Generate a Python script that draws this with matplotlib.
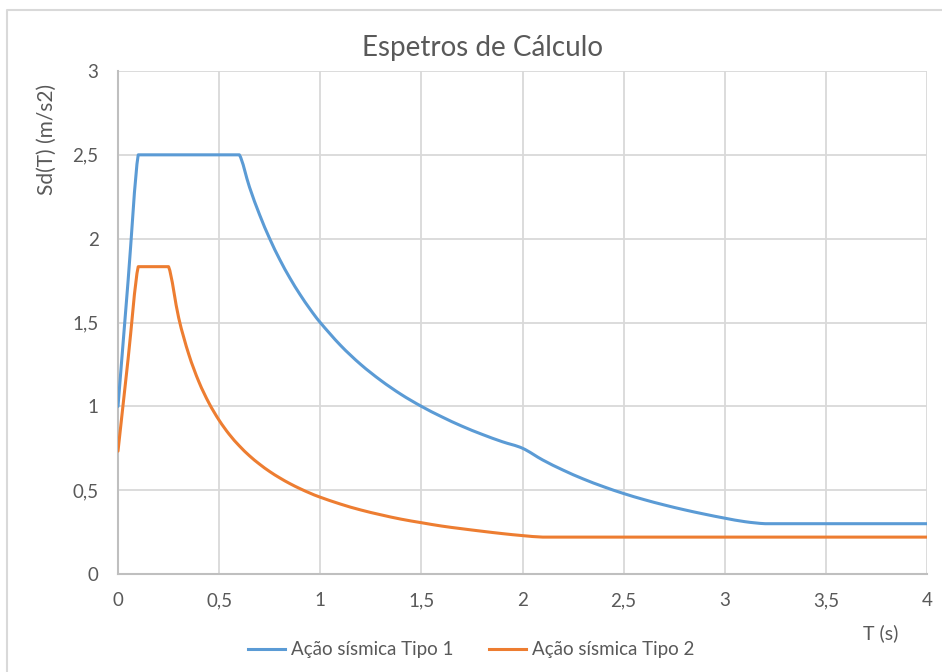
import matplotlib
matplotlib.use("Agg")
import matplotlib.pyplot as plt
import numpy as np
from matplotlib.path import Path
from matplotlib.patches import PathPatch
from matplotlib.lines import Line2D

plt.rcParams['font.family'] = ['Lato', 'DejaVu Sans']

# Period T (s)
periods = [0.0, 0.05, 0.1, 0.15, 0.2, 0.25, 0.3, 0.35, 0.4, 0.45, 0.5,
           0.55, 0.6, 0.65, 0.7, 0.75, 0.8, 0.85, 0.9, 0.95, 1.0,
           1.1, 1.2, 1.3, 1.4, 1.5, 1.6, 1.7, 1.8, 1.9, 2.0,
           2.1, 2.2, 2.3, 2.4, 2.5, 2.6, 2.7, 2.8, 2.9, 3.0,
           3.1, 3.2, 3.3, 3.4, 3.5, 3.6, 3.7, 3.8, 3.9, 4.0]

# Design spectrum, seismic action type 1 (m/s2)
sd_tipo1 = [1.000, 1.750, 2.500, 2.500, 2.500, 2.500, 2.500, 2.500, 2.500, 2.500, 2.500,
            2.500, 2.500, 2.308, 2.143, 2.000, 1.875, 1.765, 1.667, 1.579, 1.500,
            1.364, 1.250, 1.154, 1.071, 1.000, 0.938, 0.882, 0.833, 0.789, 0.750,
            0.680, 0.620, 0.567, 0.521, 0.480, 0.444, 0.412, 0.383, 0.357, 0.333,
            0.312, 0.300, 0.300, 0.300, 0.300, 0.300, 0.300, 0.300, 0.300, 0.300]

# Design spectrum, seismic action type 2 (m/s2)
sd_tipo2 = [0.733, 1.283, 1.833, 1.833, 1.833, 1.833, 1.528, 1.310, 1.146, 1.019, 0.917,
            0.833, 0.764, 0.705, 0.655, 0.611, 0.573, 0.539, 0.509, 0.482, 0.458,
            0.417, 0.382, 0.353, 0.327, 0.306, 0.286, 0.270, 0.255, 0.241, 0.229,
            0.220, 0.220, 0.220, 0.220, 0.220, 0.220, 0.220, 0.220, 0.220, 0.220,
            0.220, 0.220, 0.220, 0.220, 0.220, 0.220, 0.220, 0.220, 0.220, 0.220]

series_names = ["Ação sísmica Tipo 1", "Ação sísmica Tipo 2"]
series_colors = ["#5b9bd5", "#ed7d31"]

x_ticks = [0, 0.5, 1, 1.5, 2, 2.5, 3, 3.5, 4]
x_tick_labels = ["0", "0,5", "1", "1,5", "2", "2,5", "3", "3,5", "4"]
y_ticks = [0, 0.5, 1, 1.5, 2, 2.5, 3]
y_tick_labels = ["0", "0,5", "1", "1,5", "2", "2,5", "3"]

TEXT = "#595959"
W, H = 942, 672
fig = plt.figure(figsize=(W / 100, H / 100), dpi=100)
ax = fig.add_axes([118 / W, 1 - 574 / H, (927 - 118) / W, (574 - 71) / H])


def smooth_path(xs, ys):
    """Smoothed Bezier line through the points; control points are clamped
    to each segment's value range so flat stretches stay flat."""
    p = np.column_stack([xs, ys]).astype(float)
    n = len(p)
    verts = [p[0]]
    codes = [Path.MOVETO]
    for i in range(n - 1):
        p0 = p[i - 1] if i > 0 else p[i]
        p1, p2 = p[i], p[i + 1]
        p3 = p[i + 2] if i + 2 < n else p[i + 1]
        c1 = p1 + (p2 - p0) / 6.0
        c2 = p2 - (p3 - p1) / 6.0
        lo, hi = min(p1[1], p2[1]), max(p1[1], p2[1])
        c1[1] = np.clip(c1[1], lo, hi)
        c2[1] = np.clip(c2[1], lo, hi)
        verts += [c1, c2, p2]
        codes += [Path.CURVE4] * 3
    return Path(verts, codes)


for ys, color in zip([sd_tipo1, sd_tipo2], series_colors):
    patch = PathPatch(smooth_path(periods, ys), facecolor="none", edgecolor=color,
                      lw=2.2, capstyle="round", joinstyle="round", zorder=3)
    ax.add_patch(patch)

ax.set_xlim(0, 4)
ax.set_ylim(0, 3)
ax.set_xticks(x_ticks)
ax.set_xticklabels(x_tick_labels)
ax.set_yticks(y_ticks)
ax.set_yticklabels(y_tick_labels)
ax.tick_params(length=0, labelsize=13.5, labelcolor=TEXT)
ax.tick_params(axis="x", pad=13)
ax.tick_params(axis="y", pad=14)
ax.grid(True, color="#d9d9d9", lw=1.3, zorder=0)
ax.set_axisbelow(True)
for side in ["top", "right"]:
    ax.spines[side].set_visible(False)
for side in ["left", "bottom"]:
    ax.spines[side].set_color("#bfbfbf")
    ax.spines[side].set_linewidth(1.5)

fig.text(482 / W, 1 - 48 / H, "Espetros de Cálculo",
         ha="center", va="center", fontsize=20, color=TEXT)
fig.text(47 / W, 1 - 139 / H, "Sd(T) (m/s2)", rotation=90, ha="center", va="center",
         fontsize=15, color=TEXT)
fig.text(881 / W, 1 - 633 / H, "T (s)", ha="center", va="center",
         fontsize=14, color=TEXT)

handles = [Line2D([], [], color=c, lw=2.2) for c in series_colors]
fig.legend(handles, series_names, loc="center", bbox_to_anchor=(471 / W, 1 - 650 / H),
           ncol=2, frameon=False, fontsize=13.5, handlelength=2.0, handletextpad=0.3,
           columnspacing=1.9, labelcolor=TEXT)

# Chart area border
fig.add_artist(Line2D([7 / W, 7 / W, 1.0], [0.0, 1 - 10 / H, 1 - 10 / H],
                      transform=fig.transFigure, color="#d9d9d9", lw=1.5))

fig.savefig("out.png", dpi=100, facecolor="white")
